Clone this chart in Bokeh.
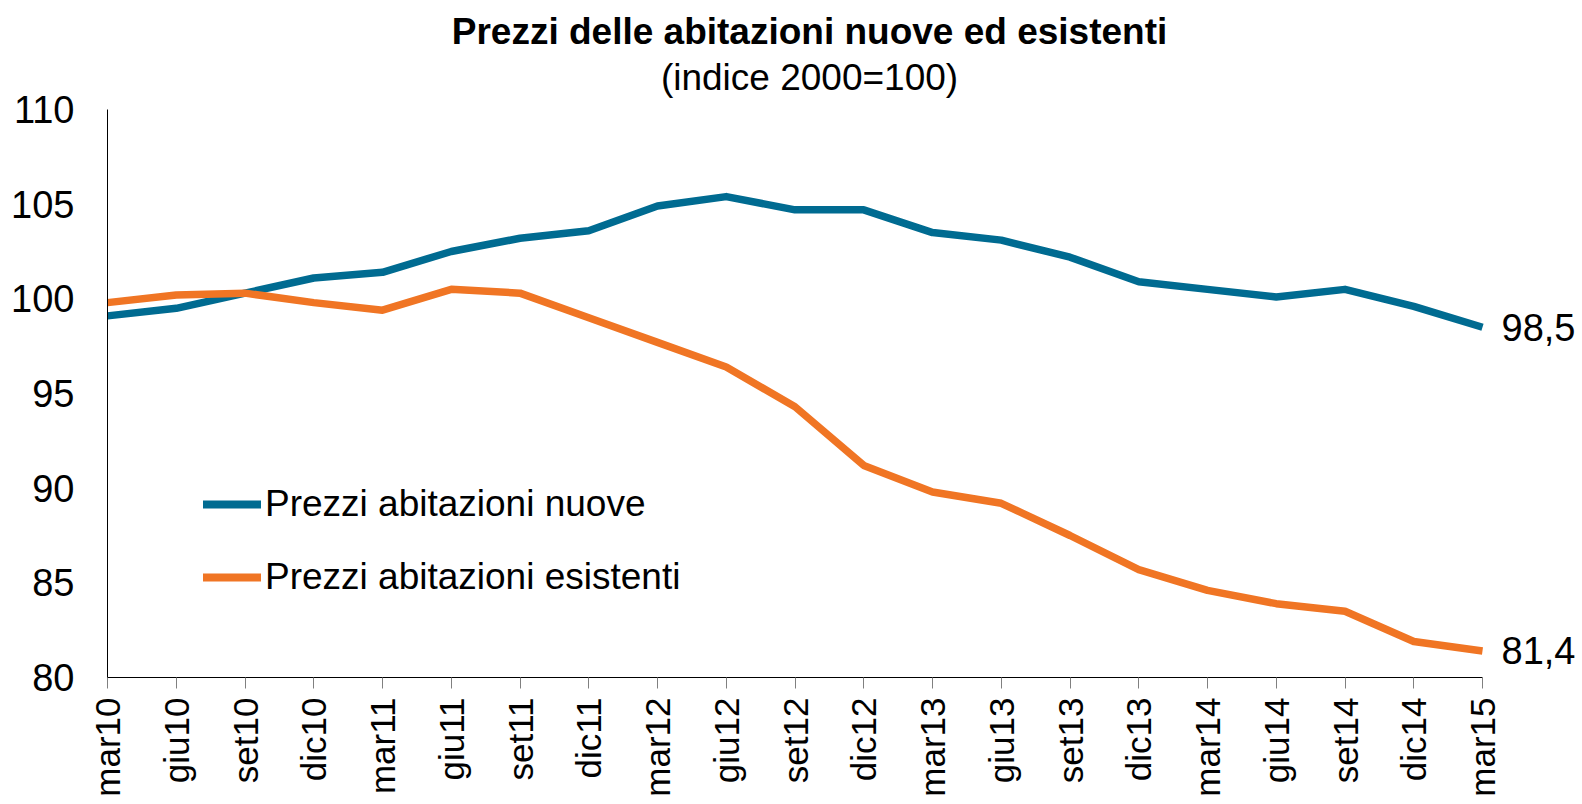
import math
from bokeh.plotting import figure
from bokeh.models import (ColumnDataSource, Range1d, FixedTicker, Legend, LegendItem, Label)
from bokeh.embed import file_html
from bokeh.resources import INLINE

# ---- data ----
periods = ["mar10", "giu10", "set10", "dic10", "mar11", "giu11", "set11", "dic11",
           "mar12", "giu12", "set12", "dic12", "mar13", "giu13", "set13", "dic13",
           "mar14", "giu14", "set14", "dic14", "mar15"]
nuove = [99.1, 99.5, 100.3, 101.1, 101.4, 102.5, 103.2, 103.6, 104.9, 105.4, 104.7,
         104.7, 103.5, 103.1, 102.2, 100.9, 100.5, 100.1, 100.5, 99.6, 98.5]
esistenti = [99.8, 100.2, 100.3, 99.8, 99.4, 100.5, 100.3, 99.0, 97.7, 96.4, 94.3,
             91.2, 89.8, 89.2, 87.5, 85.7, 84.6, 83.9, 83.5, 81.9, 81.4]
y_ticks = [80, 85, 90, 95, 100, 105, 110]
series_names = ["Prezzi abitazioni nuove", "Prezzi abitazioni esistenti"]
title_text = "Prezzi delle abitazioni nuove ed esistenti"
subtitle_text = "(indice 2000=100)"

BLUE = "#006B91"
ORANGE = "#F07524"
FONT = "Liberation Sans"

idx = list(range(len(periods)))
last = len(periods) - 1
src = ColumnDataSource(dict(x=idx, nuove=nuove, esistenti=esistenti))

AXIS_W = 1375          # pixels spanned by the category axis
EXTRA_W = 99           # room at the right for end labels
AXIS_H = 568           # pixels spanned by the value axis
EXTRA_H = 109          # room above for the titles
y_lo, y_hi = min(y_ticks), max(y_ticks)
x_end = last + EXTRA_W * last / AXIS_W
y_end = y_hi + EXTRA_H * (y_hi - y_lo) / AXIS_H
FRAME_H = AXIS_H + EXTRA_H

p = figure(frame_width=AXIS_W + EXTRA_W, frame_height=FRAME_H, output_backend="svg",
           toolbar_location=None,
           x_range=Range1d(0, x_end), y_range=Range1d(y_lo, y_end),
           min_border_left=107, min_border_top=0, min_border_right=0, min_border_bottom=10,
           background_fill_color="white", border_fill_color="white", outline_line_color=None)
p.title = None

p.xgrid.visible = False
p.ygrid.visible = False

# titles (screen units, measured from frame bottom-left)
p.add_layout(Label(x=702, y=FRAME_H - 31, x_units="screen", y_units="screen",
                   text=title_text, text_font=FONT, text_font_size="37px",
                   text_font_style="bold", text_align="center", text_baseline="alphabetic",
                   text_color="black"))
p.add_layout(Label(x=702, y=FRAME_H - 77, x_units="screen", y_units="screen",
                   text=subtitle_text, text_font=FONT, text_font_size="37px",
                   text_align="center", text_baseline="alphabetic", text_color="black"))

r1 = p.line("x", "nuove", source=src, line_color=BLUE, line_width=7.5, line_join="round")
r2 = p.line("x", "esistenti", source=src, line_color=ORANGE, line_width=7.5, line_join="round")
# legend proxies with rounded caps
l1 = p.line("x", "nuove", source=src, line_color=BLUE, line_width=8, line_cap="round", visible=False)
l2 = p.line("x", "esistenti", source=src, line_color=ORANGE, line_width=8, line_cap="round", visible=False)

legend = Legend(items=[LegendItem(label=series_names[0], renderers=[l1]),
                       LegendItem(label=series_names[1], renderers=[l2])],
                location=(96, 75), orientation="vertical",
                label_text_font=FONT, label_text_font_size="37px", label_text_color="black",
                glyph_width=58, glyph_height=50, label_standoff=4, spacing=23,
                padding=0, margin=0, border_line_color=None, background_fill_alpha=0)
p.add_layout(legend, "center")

# end labels (last value of each series)
for val in (nuove[-1], esistenti[-1]):
    p.add_layout(Label(x=last, y=val, text=f"{val:.1f}".replace(".", ","), x_offset=19,
                       text_font=FONT, text_font_size="38px", text_baseline="middle",
                       text_align="left", text_color="black"))

# axes
xa = p.xaxis[0]
xa.bounds = (0, last)
xa.ticker = FixedTicker(ticks=idx)
xa.major_label_overrides = {i: s for i, s in zip(idx, periods)}
xa.major_label_orientation = math.pi / 2
xa.major_label_text_font = FONT
xa.major_label_text_font_size = "35px"
xa.major_label_text_color = "black"
xa.major_label_standoff = 9
xa.major_tick_out = 11
xa.major_tick_in = 0
xa.major_tick_line_color = "#808080"
xa.minor_tick_line_color = None
xa.axis_line_color = "black"
xa.axis_line_width = 1

ya = p.yaxis[0]
ya.bounds = (y_lo, y_hi)
ya.ticker = FixedTicker(ticks=y_ticks)
ya.major_label_text_font = FONT
ya.major_label_text_font_size = "38px"
ya.major_label_text_color = "black"
ya.major_label_standoff = 33
ya.major_tick_out = 0
ya.major_tick_in = 0
ya.major_tick_line_color = None
ya.minor_tick_line_color = None
ya.axis_line_color = "black"
ya.axis_line_width = 1

open("out.html", "w").write(file_html(p, INLINE))
